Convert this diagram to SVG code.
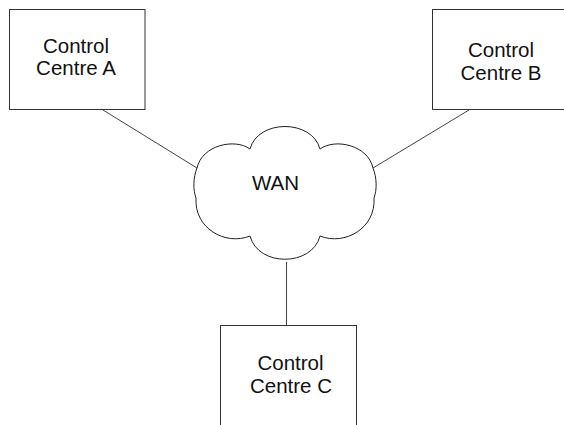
<svg xmlns="http://www.w3.org/2000/svg" width="564" height="425" viewBox="0 0 564 425">
<style>
.box{fill:#fff;stroke:#333;stroke-width:1}
.cloud{fill:#fff;stroke:#222;stroke-width:1}
.conn{stroke:#444;stroke-width:1;fill:none}
text{font-family:"Liberation Sans",Arial,sans-serif;font-size:20.5px;fill:#111;text-anchor:middle}
</style>
<rect width="564" height="425" fill="#fff"/>
<g id="connectors">
<line class="conn" x1="103" y1="110" x2="197" y2="168"/>
<line class="conn" x1="469" y1="110" x2="373" y2="168"/>
<line class="conn" x1="286.5" y1="262" x2="286.5" y2="326"/>
</g>
<g id="nodeA">
<rect class="box" x="9.5" y="9.5" width="135.5" height="100"/>
<text x="76" y="52.5">Control</text>
<text x="76" y="75">Centre A</text>
</g>
<g id="nodeB">
<rect class="box" x="432.5" y="9.5" width="200" height="100"/>
<text x="501" y="56.5">Control</text>
<text x="501" y="80">Centre B</text>
</g>
<g id="wan">
<path class="cloud" d="M250,149 C258,119 312,119 320,149 C335,138 368,145 373,168 C377,178 377,190 374,198 C376,228 345,246 320,236 C312,267 258,267 250,236 C225,246 194,228 196,198 C193,190 193,178 197,168 C202,145 235,138 250,149 Z"/>
<text x="275.5" y="189.5">WAN</text>
</g>
<g id="nodeC">
<rect class="box" x="220.5" y="325.5" width="136" height="200"/>
<text x="290.5" y="370">Control</text>
<text x="291" y="392.5">Centre C</text>
</g>
</svg>
